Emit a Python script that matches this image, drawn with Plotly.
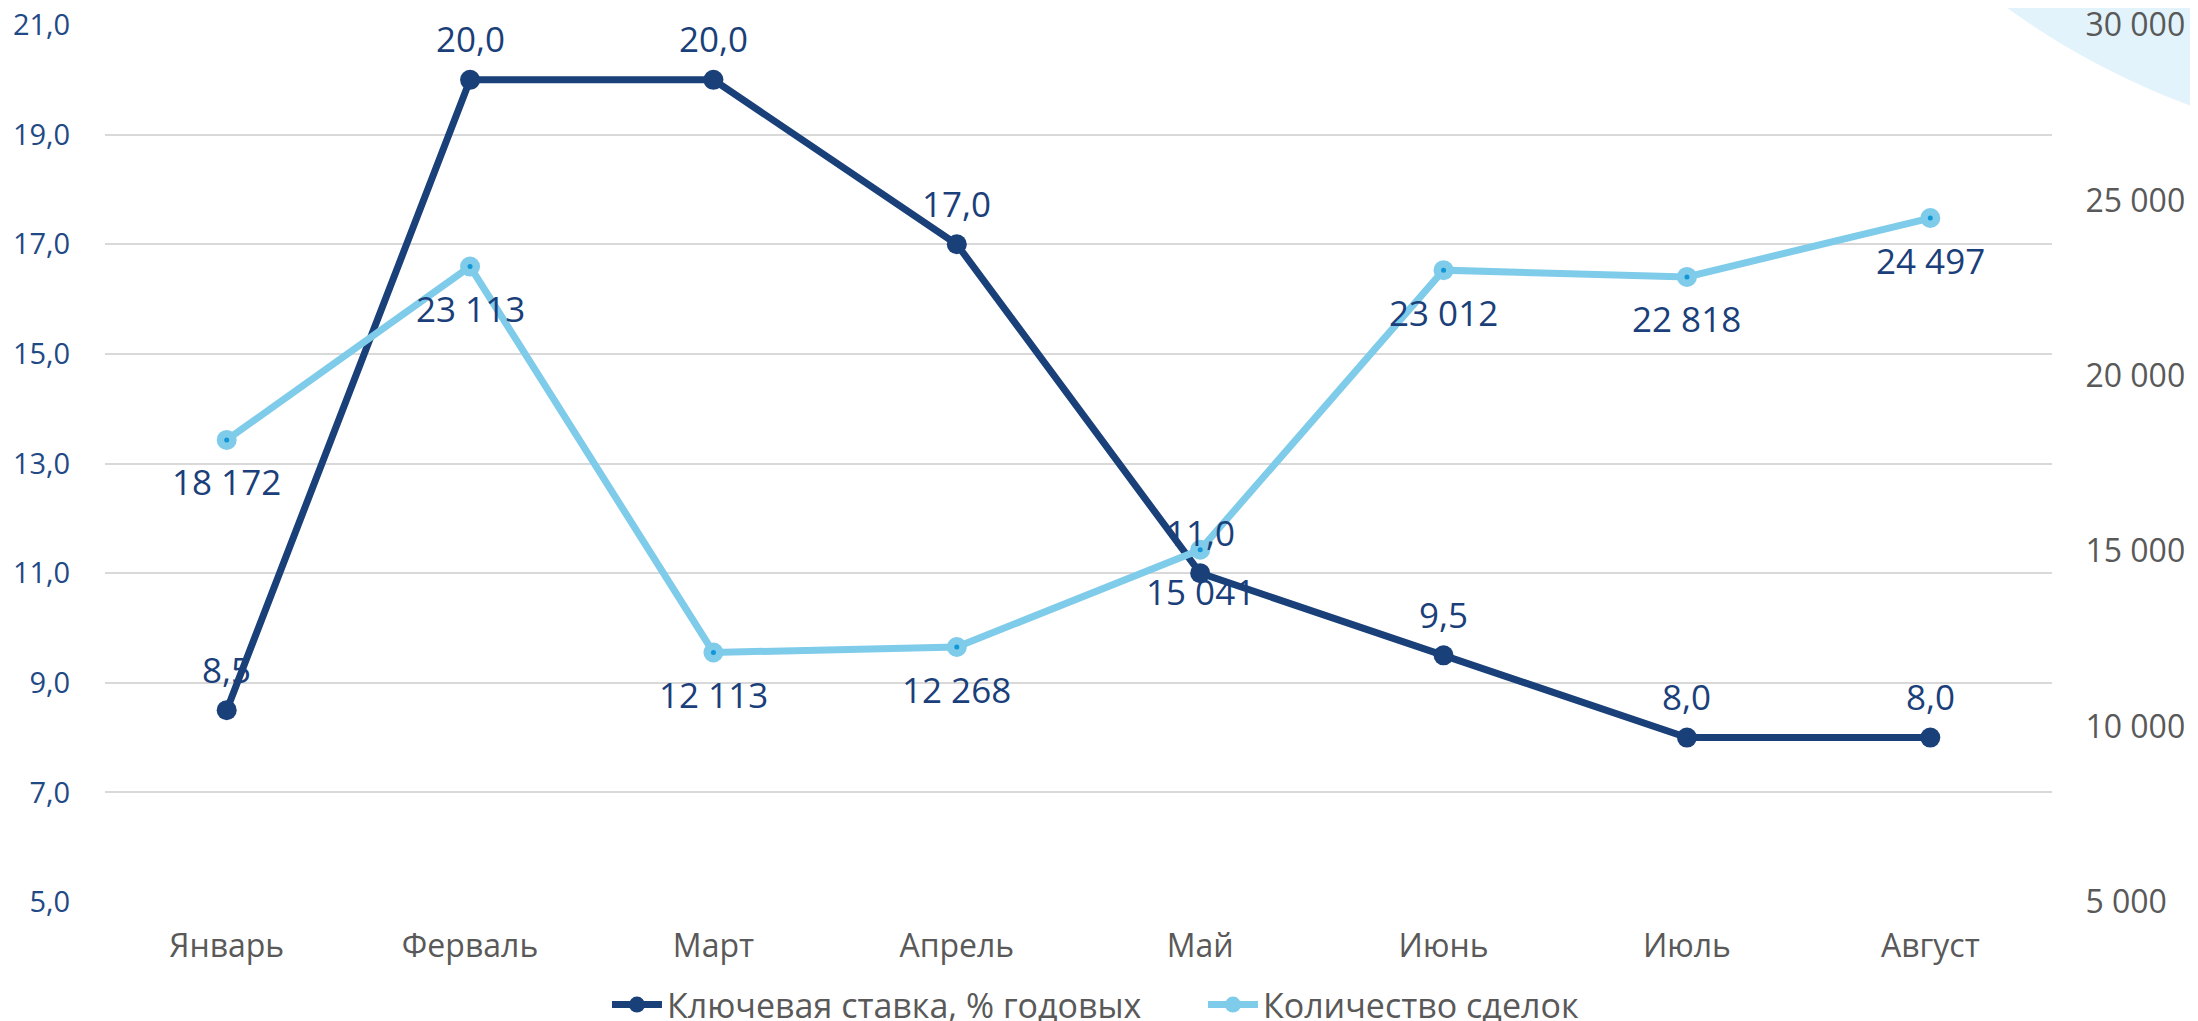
import plotly.graph_objects as go

months = ["Январь", "Ферваль", "Март", "Апрель", "Май", "Июнь", "Июль", "Август"]
key_rate = [8.5, 20.0, 20.0, 17.0, 11.0, 9.5, 8.0, 8.0]
deals = [18172, 23113, 12113, 12268, 15041, 23012, 22818, 24497]

rate_name = "Ключевая ставка, % годовых"
deals_name = "Количество сделок"

DARK = "#1A4079"
LIGHT = "#7FCBEA"
DOT = "#1196D8"
LABEL = "#1A3F7A"
GRAY = "#595959"
FONT = "Open Sans, Montserrat, sans-serif"

fig = go.Figure()

fig.add_trace(go.Scatter(
    x=months, y=key_rate, name=rate_name, mode="lines+markers",
    line=dict(color=DARK, width=7), marker=dict(color=DARK, size=20),
    yaxis="y", cliponaxis=False,
))
fig.add_trace(go.Scatter(
    x=months, y=deals, name=deals_name, mode="lines+markers",
    line=dict(color=LIGHT, width=7), marker=dict(color=LIGHT, size=20),
    yaxis="y2", cliponaxis=False,
))
fig.add_trace(go.Scatter(
    x=months, y=deals, mode="markers", showlegend=False, hoverinfo="skip",
    marker=dict(color=DOT, size=5), yaxis="y2", cliponaxis=False,
))

annotations = []
for m, v in zip(months, key_rate):
    annotations.append(dict(
        x=m, y=v, xref="x", yref="y", text=f"{v:.1f}".replace(".", ","),
        showarrow=False, yshift=41, font=dict(family=FONT, size=35, color=LABEL),
    ))
for m, v in zip(months, deals):
    annotations.append(dict(
        x=m, y=v, xref="x", yref="y2", text=f"{v:,}".replace(",", " "),
        showarrow=False, yshift=-42, font=dict(family=FONT, size=35, color=LABEL),
    ))

fig.update_layout(
    template="none",
    width=2190, height=1013,
    margin=dict(l=97, r=146, t=17, b=119, autoexpand=False),
    paper_bgcolor="white", plot_bgcolor="rgba(0,0,0,0)",
    separators=", ",
    font=dict(family=FONT, color=GRAY),
    annotations=annotations,
    shapes=[dict(
        type="circle", xref="paper", yref="paper", layer="below",
        x0=0.8136, x1=1.6014, y0=0.854, y1=2.603,
        fillcolor="#E3F3FB", line=dict(width=0),
    )],
    xaxis=dict(
        type="category", range=[-0.5, 7.5], showgrid=False, zeroline=False,
        showline=False, ticks="outside", ticklen=16, tickcolor="rgba(0,0,0,0)",
        tickfont=dict(family=FONT, size=32, color=GRAY), automargin=False,
        ticklabeloverflow="allow",
    ),
    yaxis=dict(
        range=[5, 21], dtick=2, tick0=5, tickformat=".1f",
        showgrid=True, gridcolor="#D9D9D9", gridwidth=2, zeroline=False,
        showline=False, ticks="outside", ticklen=28, tickcolor="rgba(0,0,0,0)",
        tickfont=dict(family=FONT, size=29, color="#1F4A85"), automargin=False,
        ticklabeloverflow="allow",
    ),
    yaxis2=dict(
        range=[5000, 30000], dtick=5000, tick0=5000, tickformat=",d",
        overlaying="y", side="right", showgrid=False, zeroline=False,
        showline=False, ticks="outside", ticklen=26, tickcolor="rgba(0,0,0,0)",
        tickfont=dict(family=FONT, size=32, color=GRAY), automargin=False,
        ticklabeloverflow="allow",
    ),
    legend=dict(
        orientation="h", xref="container", yref="container",
        x=0.2735, xanchor="left", y=0.0158, yanchor="middle",
        font=dict(family=FONT, size=34, color=GRAY),
        itemwidth=50, entrywidth=531, entrywidthmode="pixels",
        bgcolor="rgba(0,0,0,0)", tracegroupgap=0,
    ),
    showlegend=True,
)

fig.write_html("out.html")
